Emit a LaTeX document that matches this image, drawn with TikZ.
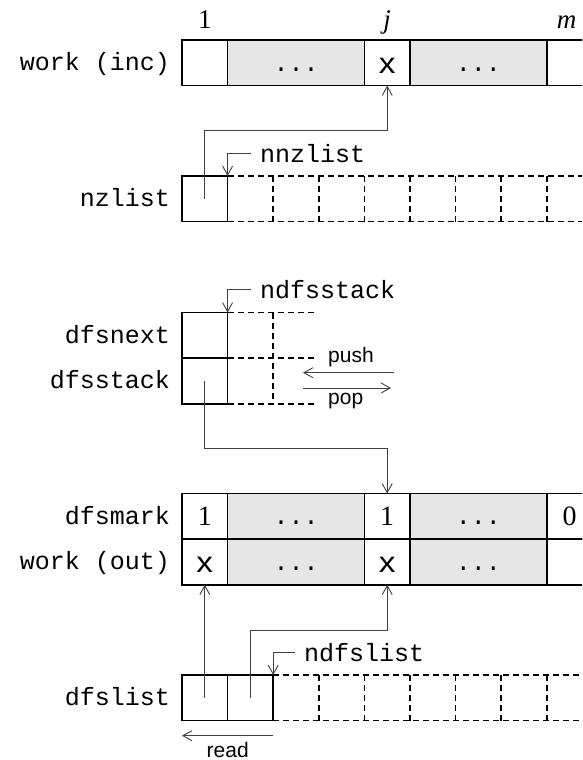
\documentclass[tikz,border=0pt]{standalone}
\usepackage{fontspec}
\setmainfont{Liberation Serif}
\setsansfont{Liberation Sans}
\setmonofont{Liberation Mono}
\usetikzlibrary{arrows.meta}
\definecolor{cellgray}{HTML}{E6E6E6}
\definecolor{linegray}{HTML}{404040}
\begin{document}
\begin{tikzpicture}[x=1pt,y=-1pt,
  box/.style={draw, line width=1.6pt, minimum width=45.6pt, minimum height=45.6pt, inner sep=0pt, outer sep=0pt, anchor=north west},
  widebox/.style={box, minimum width=136.8pt, fill=cellgray},
  dotstxt/.style={font=\fontsize{25}{30}\selectfont\ttfamily, text height=31pt, text depth=14.6pt},
  glyph/.style={font=\fontsize{29}{33}\selectfont\sffamily, text height=33.3pt, text depth=12.3pt},
  digit/.style={font=\fontsize{28}{32}\selectfont\rmfamily, text height=32.3pt, text depth=13.3pt},
  rowlbl/.style={font=\fontsize{25}{30}\selectfont\ttfamily, anchor=base east, inner sep=0pt},
  ptr/.style={font=\fontsize{25}{30}\selectfont\ttfamily, anchor=base west, inner xsep=9pt, inner ysep=0pt},
  op/.style={font=\fontsize{21}{25}\selectfont\sffamily, anchor=base west, inner sep=0pt},
  idx/.style={font=\fontsize{27}{31}\selectfont\rmfamily, anchor=base, inner sep=0pt},
  conn/.style={line width=0.9pt, draw=linegray},
  tip/.style={-{Straight Barb[length=9pt,width=10pt]}},
  dashline/.style={line width=1.6pt, dash pattern=on 6pt off 4pt}
]
\clip (0,0) rectangle (582,760);

% ---- work (inc)
\node[box] (wi1) at (182,40) {};
\node[widebox, dotstxt] (wi2) at (227.6,40) {...};
\node[box, glyph] (wi3) at (364.4,40) {\scalebox{1.15}[1]{x}};
\node[widebox, dotstxt] (wi4) at (410,40) {...};
\node[box] (wi5) at (546.8,40) {};
\node[idx] (i1) at ([yshift=11pt]wi1.north) {1};
\node[idx] (ij) at ([yshift=11pt]wi3.north) {\textit{j}};
\node[idx] (im) at ([yshift=11pt,xshift=-3pt]wi5.north) {\textit{m}};
\node[rowlbl] (lwi) at ([xshift=-12pt,yshift=-8pt]wi1.west) {work (inc)};

% ---- nzlist
\draw[dashline] (227.6,176) -- (600,176) (227.6,221.6) -- (600,221.6);
\foreach \xx in {273.2,318.8,364.4,410,455.6,501.2,546.8}
  \draw[dashline] (\xx,176) -- (\xx,221.6);
\node[box] (nz1) at (182,176) {};
\node[rowlbl] (lnz) at ([xshift=-12pt,yshift=-8pt]nz1.west) {nzlist};
\node[ptr] (nnz) at (251,162.7) {nnzlist};
\draw[conn,tip] (nnz.west) -| (nz1.north east);
\draw[conn,tip] (nz1.center) -- ++(0,-68.1) -| (wi3.south);

% ---- dfsnext / dfsstack
\draw[dashline] (227.6,312.5) -- (315,312.5) (227.6,358.1) -- (315,358.1) (227.6,403.7) -- (315,403.7);
\draw[dashline] (273.2,312.5) -- (273.2,403.7);
\node[box] (dn1) at (182,312.5) {};
\node[box] (ds1) at (182,358.1) {};
\node[rowlbl] (ldn) at ([xshift=-12pt,yshift=-8pt]dn1.west) {dfsnext};
\node[rowlbl] (lds) at ([xshift=-12pt,yshift=-8pt]ds1.west) {dfsstack};
\node[ptr] (nds) at (251,298) {ndfsstack};
\draw[conn,tip] (nds.west) -| (dn1.north east);
\node[op] (push) at (328,362) {push};
\node[op] (pop) at (328,404) {pop};
\coordinate (pushs) at (394,372.7);
\coordinate (pushe) at (303,372.7);
\coordinate (pops) at (303,388);
\coordinate (pope) at (391,388);
\draw[conn,tip] (pushs) -- (pushe);
\draw[conn,tip] (pops) -- (pope);

% ---- dfsmark / work (out)
\node[box, digit] (dm1) at (182,493.5) {1};
\node[widebox, dotstxt] (dm2) at (227.6,493.5) {...};
\node[box, digit] (dm3) at (364.4,493.5) {1};
\node[widebox, dotstxt] (dm4) at (410,493.5) {...};
\node[box, digit] (dm5) at (546.8,493.5) {0};
\node[box, glyph] (wo1) at (182,539.1) {\scalebox{1.15}[1]{x}};
\node[widebox, dotstxt] (wo2) at (227.6,539.1) {...};
\node[box, glyph] (wo3) at (364.4,539.1) {\scalebox{1.15}[1]{x}};
\node[widebox, dotstxt] (wo4) at (410,539.1) {...};
\node[box] (wo5) at (546.8,539.1) {};
\node[rowlbl] (ldm) at ([xshift=-12pt,yshift=-8pt]dm1.west) {dfsmark};
\node[rowlbl] (lwo) at ([xshift=-12pt,yshift=-8pt]wo1.west) {work (out)};
\draw[conn,tip] (ds1.center) -- ++(0,68) -| (dm3.north);

% ---- dfslist
\draw[dashline] (273.2,675) -- (600,675) (273.2,720.6) -- (600,720.6);
\foreach \xx in {318.8,364.4,410,455.6,501.2,546.8}
  \draw[dashline] (\xx,675) -- (\xx,720.6);
\node[box] (dl1) at (182,675) {};
\node[box] (dl2) at (227.6,675) {};
\node[rowlbl] (ldl) at ([xshift=-12pt,yshift=-8pt]dl1.west) {dfslist};
\node[ptr] (ndl) at (295,661.7) {ndfslist};
\draw[conn,tip] (ndl.west) -| (dl2.north east);
\draw[conn,tip] (dl1.center) -- (wo1.south);
\draw[conn,tip] (dl2.center) -- ++(0,-67.8) -| (wo3.south);
\node[op] (read) at (206.5,757) {read};
\coordinate (reads) at (273.2,735.7);
\coordinate (reade) at (182,735.7);
\draw[conn,tip] (reads) -- (reade);
\end{tikzpicture}
\end{document}
